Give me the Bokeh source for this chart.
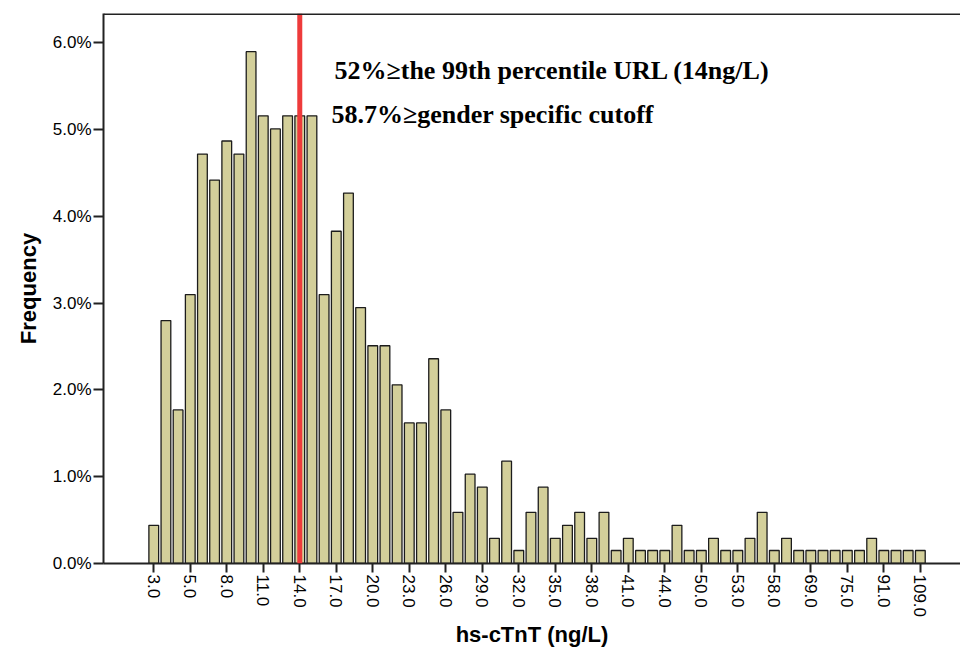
import math
from bokeh.plotting import figure
from bokeh.models import Span, Label, FixedTicker, Range1d
from bokeh.embed import file_html
from bokeh.resources import INLINE

# ---- data ----
tick_labels = ["3.0", "5.0", "8.0", "11.0", "14.0", "17.0", "20.0", "23.0", "26.0",
               "29.0", "32.0", "35.0", "38.0", "41.0", "44.0", "50.0", "53.0", "58.0",
               "69.0", "75.0", "91.0", "109.0"]
tick_every = 3  # one labelled tick every 3 bars

frequency_pct = [0.44, 2.80, 1.77, 3.10, 4.72, 4.42, 4.87, 4.72, 5.90, 5.16,
                 5.01, 5.16, 5.16, 5.16, 3.10, 3.83, 4.27, 2.95, 2.51, 2.51,
                 2.06, 1.62, 1.62, 2.36, 1.77, 0.59, 1.03, 0.88, 0.29, 1.18,
                 0.15, 0.59, 0.88, 0.29, 0.44, 0.59, 0.29, 0.59, 0.15, 0.29,
                 0.15, 0.15, 0.15, 0.44, 0.15, 0.15, 0.29, 0.15, 0.15, 0.29,
                 0.59, 0.15, 0.29, 0.15, 0.15, 0.15, 0.15, 0.15, 0.15, 0.29,
                 0.15, 0.15, 0.15, 0.15]
y_ticks = [0, 1, 2, 3, 4, 5, 6]
cutoff_label = "14.0"
annot_1 = "52%\u2265the 99th percentile URL (14ng/L)"
annot_2 = "58.7%\u2265gender specific cutoff"

bar_x = list(range(len(frequency_pct)))
tick_pos = [i * tick_every for i in range(len(tick_labels))]
cutoff_x = tick_pos[tick_labels.index(cutoff_label)]

Y_TOP = 6.34

p = figure(width=960, height=650, output_backend="svg", toolbar_location=None,
           x_range=Range1d(-4.13, 66.3), y_range=Range1d(0, Y_TOP),
           min_border_left=103, min_border_right=0, min_border_top=13,
           min_border_bottom=87)
p.outline_line_color = None
p.xgrid.visible = False
p.ygrid.visible = False
p.background_fill_color = "white"
p.border_fill_color = "white"

p.vbar(x=bar_x, top=frequency_pct, bottom=0, width=0.8,
       fill_color="#d3cf9a", line_color="#1c1c1c", line_width=1.3)

# cutoff line
p.add_layout(Span(location=cutoff_x, dimension="height", line_color="#ee3b3b",
                  line_width=5))
# top frame line
p.add_layout(Span(location=Y_TOP - 0.005, dimension="width", line_color="#222222",
                  line_width=2))

# axes
xa = p.xaxis[0]
xa.ticker = FixedTicker(ticks=tick_pos)
xa.major_label_overrides = {t: l for t, l in zip(tick_pos, tick_labels)}
xa.major_label_orientation = -math.pi / 2
xa.major_label_text_font = "Liberation Sans"
xa.major_label_text_font_size = "17px"
xa.major_label_text_color = "black"
xa.major_label_standoff = 2
xa.major_tick_out = 9
xa.major_tick_in = 0
xa.minor_tick_line_color = None
xa.major_tick_line_width = 2
xa.major_tick_line_color = "#222222"
xa.axis_line_width = 2
xa.axis_line_color = "#222222"
xa.axis_label = "hs-cTnT (ng/L)"
xa.axis_label_text_font = "Liberation Sans"
xa.axis_label_text_font_style = "bold"
xa.axis_label_text_font_size = "22px"
xa.axis_label_text_color = "black"
xa.axis_label_standoff = 2

ya = p.yaxis[0]
ya.ticker = FixedTicker(ticks=y_ticks)
ya.major_label_overrides = {v: f"{v:.1f}%" for v in y_ticks}
ya.major_label_text_font = "Liberation Sans"
ya.major_label_text_font_size = "17px"
ya.major_label_text_color = "black"
ya.major_label_standoff = 2
ya.major_tick_out = 10
ya.major_tick_in = 0
ya.minor_tick_line_color = None
ya.major_tick_line_width = 2
ya.major_tick_line_color = "#222222"
ya.axis_line_width = 2
ya.axis_line_color = "#222222"
ya.axis_label = "Frequency"
ya.axis_label_text_font = "Liberation Sans"
ya.axis_label_text_font_style = "bold"
ya.axis_label_text_font_size = "22px"
ya.axis_label_text_color = "black"
ya.axis_label_standoff = 9

# annotations
p.add_layout(Label(x=14.85, y=5.68, text=annot_1, text_font="Liberation Serif",
                   text_font_style="bold", text_font_size="26px", text_color="black",
                   text_baseline="alphabetic"))
p.add_layout(Label(x=14.6, y=5.17, text=annot_2, text_font="Liberation Serif",
                   text_font_style="bold", text_font_size="26px", text_color="black",
                   text_baseline="alphabetic"))

open("out.html", "w").write(file_html(p, INLINE))
